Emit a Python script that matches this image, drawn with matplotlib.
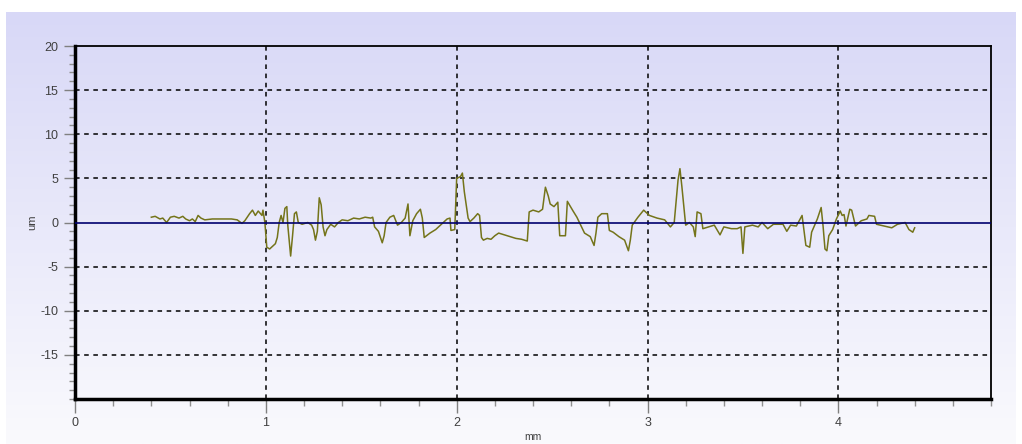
import numpy as np
import matplotlib.pyplot as plt
from matplotlib.ticker import MultipleLocator

plt.rcParams['font.family'] = ['Liberation Sans', 'DejaVu Sans']
plt.rcParams['axes.unicode_minus'] = False

# profile: position (mm) and height (um)
pos_mm = [0.40, 0.42, 0.445, 0.46, 0.48, 0.50, 0.52, 0.545, 0.565, 0.58, 0.60, 0.615, 0.63, 0.645,
          0.66, 0.68, 0.72, 0.75, 0.785, 0.82, 0.85, 0.875, 0.89, 0.915, 0.93, 0.945, 0.96, 0.98,
          0.985, 0.995, 1.005, 1.02, 1.05, 1.06, 1.07, 1.08, 1.09, 1.10, 1.11, 1.115, 1.13, 1.14,
          1.15, 1.16, 1.17, 1.19, 1.22, 1.24, 1.25, 1.26, 1.27, 1.28, 1.29, 1.30, 1.31, 1.32,
          1.34, 1.36, 1.38, 1.40, 1.43, 1.46, 1.49, 1.52, 1.55, 1.56, 1.57, 1.59, 1.61, 1.62,
          1.63, 1.65, 1.67, 1.69, 1.71, 1.73, 1.745, 1.755, 1.77, 1.79, 1.81, 1.82, 1.83, 1.86,
          1.89, 1.92, 1.95, 1.965, 1.97, 1.99, 2.00, 2.02, 2.03, 2.04, 2.05, 2.06, 2.07, 2.09,
          2.11, 2.12, 2.13, 2.14, 2.16, 2.18, 2.20, 2.22, 2.25, 2.28, 2.31, 2.34, 2.37, 2.38,
          2.40, 2.43, 2.45, 2.465, 2.48, 2.49, 2.51, 2.53, 2.54, 2.57, 2.58, 2.61, 2.63, 2.65,
          2.67, 2.70, 2.72, 2.73, 2.74, 2.76, 2.79, 2.80, 2.82, 2.85, 2.88, 2.90, 2.91, 2.92,
          2.95, 2.98, 3.01, 3.05, 3.09, 3.12, 3.14, 3.16, 3.17, 3.18, 3.20, 3.22, 3.24, 3.25,
          3.26, 3.28, 3.29, 3.32, 3.35, 3.38, 3.40, 3.44, 3.47, 3.49, 3.50, 3.51, 3.55, 3.58,
          3.60, 3.63, 3.66, 3.71, 3.73, 3.75, 3.78, 3.80, 3.81, 3.83, 3.85, 3.86, 3.89, 3.91,
          3.92, 3.93, 3.94, 3.95, 3.97, 3.99, 4.01, 4.02, 4.03, 4.04, 4.06, 4.07, 4.09, 4.12,
          4.15, 4.16, 4.19, 4.20, 4.24, 4.28, 4.31, 4.35, 4.37, 4.39, 4.40]
height_um = [0.6, 0.7, 0.4, 0.5, 0.0, 0.6, 0.7, 0.5, 0.7, 0.4, 0.2, 0.4, 0.1, 0.8,
             0.5, 0.3, 0.4, 0.4, 0.4, 0.4, 0.3, -0.1, 0.2, 1.0, 1.4, 0.8, 1.3, 0.8,
             1.4, 0.0, -2.8, -3.0, -2.4, -1.7, 0.0, 0.8, 0.0, 1.6, 1.8, -0.3, -3.8, -1.5,
             1.0, 1.2, 0.0, -0.2, 0.0, -0.3, -0.8, -2.0, -1.0, 2.8, 2.0, -0.5, -1.5, -0.8,
             -0.2, -0.5, 0.0, 0.3, 0.2, 0.5, 0.4, 0.6, 0.5, 0.6, -0.5, -1.0, -2.3, -1.5,
             0.0, 0.6, 0.8, -0.3, 0.0, 0.5, 2.1, -1.5, 0.2, 1.0, 1.5, 0.5, -1.7, -1.2,
             -0.8, -0.2, 0.4, 0.5, -0.9, -0.8, 5.0, 5.2, 5.6, 3.5, 2.0, 0.5, 0.1, 0.5,
             1.0, 0.8, -1.7, -2.0, -1.8, -1.9, -1.5, -1.2, -1.4, -1.6, -1.8, -1.9, -2.1, 1.2,
             1.4, 1.2, 1.5, 4.0, 3.0, 2.1, 1.8, 2.3, -1.5, -1.5, 2.4, 1.3, 0.6, -0.3,
             -1.2, -1.6, -2.6, -1.2, 0.6, 1.0, 1.0, -0.9, -1.1, -1.6, -2.0, -3.2, -2.0, -0.3,
             0.6, 1.4, 0.8, 0.5, 0.3, -0.5, 0.0, 4.8, 6.1, 4.1, -0.3, 0.0, -0.5, -1.6,
             1.2, 1.0, -0.7, -0.5, -0.3, -1.4, -0.5, -0.7, -0.7, -0.5, -3.5, -0.5, -0.3, -0.5,
             0.0, -0.7, -0.2, -0.2, -1.0, -0.3, -0.4, 0.4, 0.8, -2.6, -2.8, -1.1, 0.4, 1.7,
             -0.4, -3.0, -3.2, -1.5, -0.8, 0.4, 1.3, 0.8, 0.9, -0.4, 1.5, 1.4, -0.4, 0.2,
             0.4, 0.8, 0.7, -0.2, -0.4, -0.6, -0.2, 0.0, -0.8, -1.1, -0.6]

x_ticks = [0, 1, 2, 3, 4]
y_ticks = [-15, -10, -5, 0, 5, 10, 15, 20]

fig = plt.figure(figsize=(10.22, 4.44), dpi=100)
fig.patch.set_facecolor('white')

# gradient background behind everything
bg = fig.add_axes([0.006, 0.0, 0.988, 0.973], zorder=-10)
grad = np.linspace(0, 1, 256).reshape(-1, 1)
top = np.array([216, 216, 247]) / 255.0
bot = np.array([250, 250, 253]) / 255.0
img = top * (1 - grad[..., None]) + bot * grad[..., None]
img = np.repeat(img, 2, axis=1)
bg.imshow(img, aspect='auto', extent=[0, 1, 0, 1])
bg.set_axis_off()

ax = fig.add_axes([75 / 1022, 45 / 444, 916 / 1022, 353 / 444])
ax.patch.set_alpha(0)

ax.plot(pos_mm, height_um, color='#74741a', lw=1.1, zorder=3)
ax.axhline(0, color='#00006e', lw=1.2, zorder=4)

ax.set_xlim(0, 4.8)
ax.set_ylim(-20, 20)
ax.set_xticks(x_ticks)
ax.set_yticks(y_ticks)
ax.xaxis.set_minor_locator(MultipleLocator(0.2))
ax.yaxis.set_minor_locator(MultipleLocator(1))

for v in [1, 2, 3, 4]:
    ax.axvline(v, color='black', lw=1.1, ls=(0, (3, 3)), zorder=2)
for v in [-15, -10, -5, 5, 10, 15]:
    ax.axhline(v, color='black', lw=1.1, ls=(0, (3, 3)), zorder=2)

ax.spines['left'].set_linewidth(2.5)
ax.spines['bottom'].set_linewidth(2.5)
ax.spines['top'].set_linewidth(1.3)
ax.spines['right'].set_linewidth(1.3)

ax.tick_params(which='major', direction='out', length=8, width=1, color='#808080',
               labelsize=9, labelcolor='#404040', pad=4)
ax.tick_params(which='minor', direction='out', length=4, width=1, color='#909090')
ax.tick_params(axis='x', which='major', length=10, pad=3)
ax.tick_params(axis='x', which='minor', length=5)

ax.set_xlabel('mm', fontsize=7.5, color='#404040', labelpad=2)
ax.set_ylabel('um', fontsize=8, color='#404040', labelpad=2)

fig.savefig('out.png', dpi=100)
